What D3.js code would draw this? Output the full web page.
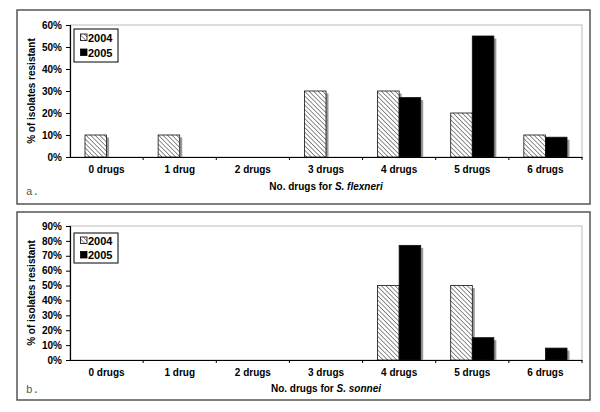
<!DOCTYPE html>
<html><head><meta charset="utf-8">
<script src="https://cdn.jsdelivr.net/npm/d3@7"></script>
<style>body{margin:0;background:#fff}svg{display:block}</style>
</head><body>
<svg id="c" width="600" height="412"></svg>
<script>
const categories = ["0 drugs","1 drug","2 drugs","3 drugs","4 drugs","5 drugs","6 drugs"];
const seriesNames = ["2004","2005"];
const flexneri2004 = [10,10,0,30,30,20,10];
const flexneri2005 = [0,0,0,0,27,55,9];
const sonnei2004 = [0,0,0,0,50,50,0];
const sonnei2005 = [0,0,0,0,77,15,8];
const ticksA = [0,10,20,30,40,50,60];
const ticksB = [0,10,20,30,40,50,60,70,80,90];

const svg = d3.select("#c");
const defs = svg.append("defs");
const pat = defs.append("pattern").attr("id","hatch").attr("patternUnits","userSpaceOnUse")
  .attr("width",3.2).attr("height",3.2).attr("patternTransform","rotate(-45)");
pat.append("rect").attr("width",3.2).attr("height",3.2).attr("fill","#fff");
pat.append("line").attr("x1",0).attr("y1",0).attr("x2",0).attr("y2",3.2).attr("stroke","#333").attr("stroke-width",1.1);

const font = "Arial, 'Liberation Sans', sans-serif";

function panel(cfg){
  const g = svg.append("g");
  g.append("rect").attr("x",17).attr("y",cfg.frameTop).attr("width",573).attr("height",cfg.frameBottom-cfg.frameTop)
    .attr("fill","#fff").attr("stroke","#555").attr("stroke-width",1.5);
  const x = d3.scaleBand().domain(categories).range([70,582]).paddingInner(0.41).paddingOuter(0.205);
  const xs = d3.scaleBand().domain(seriesNames).range([0,x.bandwidth()]);
  const y = d3.scaleLinear().domain([0,cfg.max]).range([cfg.y0,cfg.yTop]);
  g.append("rect").attr("x",70).attr("y",cfg.yTop).attr("width",512).attr("height",cfg.y0-cfg.yTop)
    .attr("fill","none").attr("stroke","#bbb").attr("stroke-width",1);
  const data = [];
  categories.forEach((c,i)=>{
    data.push({c, s:"2004", v:cfg.s1[i]});
    data.push({c, s:"2005", v:cfg.s2[i]});
  });
  const d = data.filter(e=>e.v>0);
  g.selectAll(".sh").data(d).join("rect")
    .attr("x",e=>x(e.c)+xs(e.s)+2.5).attr("y",e=>y(e.v)+2.5)
    .attr("width",xs.bandwidth()).attr("height",e=>cfg.y0-y(e.v)-2.5)
    .attr("fill","#999");
  g.selectAll(".bar").data(d).join("rect")
    .attr("x",e=>x(e.c)+xs(e.s)).attr("y",e=>y(e.v))
    .attr("width",xs.bandwidth()).attr("height",e=>cfg.y0-y(e.v))
    .attr("fill",e=>e.s==="2004"?"url(#hatch)":"#000")
    .attr("stroke","#111").attr("stroke-width",0.8);
  const ya = g.append("g").attr("transform","translate(70,0)")
    .call(d3.axisLeft(y).tickValues(cfg.ticks).tickFormat(v=>v+"%").tickSize(4).tickPadding(4));
  ya.select(".domain").attr("stroke","#000").attr("stroke-width",1.2);
  ya.selectAll(".tick line").attr("stroke","#000");
  ya.selectAll("text").attr("font-family",font).attr("font-size",10).attr("font-weight","bold").attr("fill","#000");
  const xa = g.append("g").attr("transform",`translate(0,${cfg.y0})`)
    .call(d3.axisBottom(x).tickSize(0).tickPadding(9));
  xa.select(".domain").attr("stroke","#000").attr("stroke-width",1.2);
  xa.selectAll("text").attr("font-family",font).attr("font-size",10).attr("font-weight","bold").attr("fill","#000");
  const bounds = d3.range(1,8).map(i=>70+i*512/7);
  g.selectAll(".xt").data(bounds).join("line")
    .attr("x1",b=>b).attr("x2",b=>b).attr("y1",cfg.y0).attr("y2",cfg.y0+3).attr("stroke","#000");
  g.append("text").attr("transform",`translate(35,${(cfg.y0+cfg.yTop)/2}) rotate(-90)`)
    .attr("text-anchor","middle").attr("font-family",font).attr("font-size",10).attr("font-weight","bold")
    .text("% of isolates resistant");
  const xt = g.append("text").attr("x",326).attr("y",cfg.xTitleY).attr("text-anchor","middle")
    .attr("font-family",font).attr("font-size",10).attr("font-weight","bold");
  xt.append("tspan").text("No. drugs for ");
  xt.append("tspan").attr("font-style","italic").text(cfg.species);
  g.append("text").attr("x",26).attr("y",cfg.labelY).attr("font-family","'Liberation Mono', 'DejaVu Sans Mono', monospace")
    .attr("font-size",11).attr("fill","#555").text(cfg.label);
  const lg = g.append("g").attr("transform",`translate(74,${cfg.legTop})`);
  lg.append("rect").attr("width",44).attr("height",cfg.legH).attr("fill","#fff").attr("stroke","#000").attr("stroke-width",1);
  seriesNames.forEach((s,i)=>{
    const yy = cfg.legRow0 + i*cfg.legGap;
    lg.append("rect").attr("x",6.5).attr("y",yy-3.5).attr("width",6.5).attr("height",6.5)
      .attr("fill",s==="2004"?"url(#hatch)":"#000").attr("stroke","#000").attr("stroke-width",0.8);
    lg.append("text").attr("x",14).attr("y",yy+4).attr("font-family",font).attr("font-size",11)
      .attr("font-weight","bold").text(s);
  });
}

panel({frameTop:10, frameBottom:204, yTop:25, y0:157, max:60, ticks:ticksA, s1:flexneri2004, s2:flexneri2005,
  species:"S. flexneri", xTitleY:190, label:"a.", labelY:195, legTop:29, legH:33, legRow0:8.5, legGap:15});
panel({frameTop:212, frameBottom:400, yTop:226, y0:360, max:90, ticks:ticksB, s1:sonnei2004, s2:sonnei2005,
  species:"S. sonnei", xTitleY:392, label:"b.", labelY:393, legTop:233, legH:30, legRow0:7.5, legGap:14.5});
</script>
</body></html>
